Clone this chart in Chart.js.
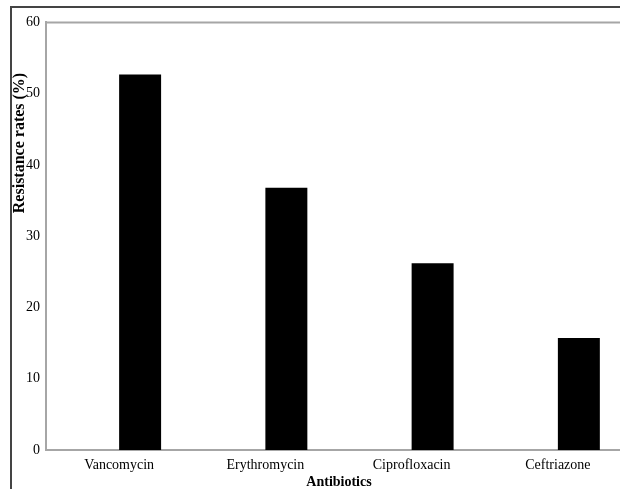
<!DOCTYPE html>
<html>
<head>
<meta charset="utf-8">
<script src="https://cdn.jsdelivr.net/npm/chart.js@4"></script>
<style>
  html, body { margin: 0; padding: 0; background: #fff; overflow: hidden; width: 620px; height: 489px; }
  #frame { position: absolute; left: 10px; top: 6px; width: 640px; height: 500px; border: 2px solid #444; }
  #chart_box { display: block; }
</style>
</head>
<body>
<div id="frame"><canvas id="chart_box" width="640" height="500"></canvas></div>
<script>
  const antibiotics = ["Vancomycin", "Erythromycin", "Ciprofloxacin", "Ceftriazone"];
  const emptySeries = [null, null, null, null];
  const resistanceRates = [52.7, 36.8, 26.2, 15.7];
  const yTicks = [0, 10, 20, 30, 40, 50, 60];

  const serif = "'Liberation Serif', 'Times New Roman', serif";

  // axis titles and the top edge of the plot box
  const extras = {
    id: "extras",
    afterDraw(chart) {
      const c = chart.ctx;
      const area = chart.chartArea;
      c.save();
      c.strokeStyle = "#a6a6a6";
      c.lineWidth = 2;
      c.beginPath();
      c.moveTo(area.left - 1, area.top);
      c.lineTo(chart.width, area.top);
      c.stroke();

      c.fillStyle = "#000";
      c.font = "bold 16px " + serif;
      c.textAlign = "center";
      c.textBaseline = "middle";
      c.translate(8, 135);
      c.rotate(-Math.PI / 2);
      c.fillText("Resistance rates (%)", 0, 0);
      c.restore();

      c.save();
      c.fillStyle = "#000";
      c.font = "bold 14px " + serif;
      c.textAlign = "center";
      c.textBaseline = "middle";
      c.fillText("Antibiotics", 327, 474);
      c.restore();
    },
  };

  new Chart(document.getElementById("chart_box"), {
    type: "bar",
    data: {
      labels: antibiotics,
      datasets: [
        { label: "", data: emptySeries, backgroundColor: "#000" },
        { label: "Resistance rates", data: resistanceRates, backgroundColor: "#000" },
      ],
    },
    options: {
      responsive: false,
      animation: false,
      layout: { padding: { top: 14, right: 21, left: 0, bottom: 0 } },
      categoryPercentage: 0.574,
      barPercentage: 1,
      plugins: {
        legend: { display: false },
        tooltip: { enabled: false },
      },
      scales: {
        x: {
          grid: { display: false, drawTicks: false },
          border: { color: "#a6a6a6", width: 2 },
          ticks: { color: "#000", font: { family: serif, size: 14 }, padding: 7, maxRotation: 0 },
          afterFit(scale) { scale.height = 58; },
        },
        y: {
          min: 0,
          max: 60,
          afterBuildTicks(scale) { scale.ticks = yTicks.map(v => ({ value: v })); },
          grid: { display: false, drawTicks: false },
          border: { color: "#a6a6a6", width: 2 },
          ticks: { color: "#000", font: { family: serif, size: 14 }, padding: 6 },
          afterFit(scale) { scale.width = 34; },
        },
      },
    },
    plugins: [extras],
  });
</script>
</body>
</html>
